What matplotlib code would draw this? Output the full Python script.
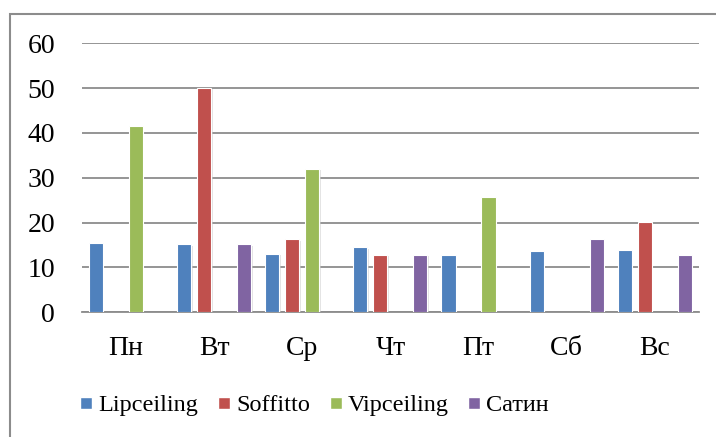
import matplotlib
matplotlib.use('Agg')
import numpy as np
import matplotlib.pyplot as plt
from matplotlib.patches import Rectangle
from matplotlib.lines import Line2D
from matplotlib.font_manager import FontProperties
import matplotlib.patheffects as pe

# Days of the week and orders per brand (0 = no bar)
days = ['Пн', 'Вт', 'Ср', 'Чт', 'Пт', 'Сб', 'Вс']
lipceiling = [15.4, 15.2, 13.0, 14.5, 12.8, 13.6, 13.9]
soffitto = [0, 50, 16.3, 12.8, 0, 0, 20.2]
vipceiling = [41.6, 0, 32.0, 0, 25.6, 0, 0]
satin = [0, 15.2, 0, 12.8, 0, 16.3, 12.8]

series = [
    ('Lipceiling', lipceiling, '#4F81BD'),
    ('Soffitto', soffitto, '#C0504D'),
    ('Vipceiling', vipceiling, '#9BBB59'),
    ('Сатин', satin, '#8064A2'),
]

plt.rcParams['font.family'] = ['Liberation Serif', 'DejaVu Serif']
FONT = 'Liberation Serif'

fig = plt.figure(figsize=(7.16, 4.37), dpi=100, facecolor='white')
ax = fig.add_axes([0.1145, 0.2854, 0.8615, 0.6156])

# Outer chart frame (runs past the right/bottom edge)
fig.patches.append(Rectangle((9.5 / 716, -0.05), 1.1, 1 - 14 / 437 + 0.05,
                             transform=fig.transFigure, fill=False,
                             edgecolor='#8C8C8C', linewidth=1.5, zorder=0))

x = np.arange(len(days))
step = 0.227
width = 0.16
shadow = [pe.SimplePatchShadow(offset=(1.0, -1.0), shadow_rgbFace='#C8C8C8', alpha=0.5),
          pe.Normal()]
for i, (name, vals, color) in enumerate(series):
    vals = np.array(vals, dtype=float)
    mask = vals > 0
    bars = ax.bar(x[mask] + (i - 1.5) * step, vals[mask], width=width,
                  color=color, edgecolor='white', linewidth=0.8, zorder=3)
    for b in bars:
        b.set_path_effects(shadow)

ax.set_xlim(-0.5, len(days) - 0.5)
ax.set_ylim(0, 60)
ax.set_yticks(range(0, 61, 10))
ax.set_yticklabels([str(v) for v in range(0, 61, 10)], family=FONT, fontsize=20)
ax.set_xticks(x)
ax.set_xticklabels(days, family=FONT, fontsize=20)

ax.grid(axis='y', color='#8C8C8C', linewidth=1.3)
ax.set_axisbelow(True)
for s in ['left', 'right', 'top']:
    ax.spines[s].set_visible(False)
ax.spines['bottom'].set_color('#8C8C8C')
ax.spines['bottom'].set_linewidth(1.3)
ax.tick_params(axis='both', length=0)
ax.tick_params(axis='x', pad=17)
ax.tick_params(axis='y', pad=19.5)

handles = [Line2D([], [], marker='s', linestyle='none', markersize=9,
                  markerfacecolor=c, markeredgecolor='white', label=n)
           for n, _, c in series]
fig.legend(handles=handles, loc='center', bbox_to_anchor=(0.437, 0.073),
           ncol=4, frameon=False, prop=FontProperties(family=FONT, size=17.5),
           handletextpad=0.1, columnspacing=0.65, handlelength=0.8)

plt.savefig('out.png', dpi=100, facecolor='white')
